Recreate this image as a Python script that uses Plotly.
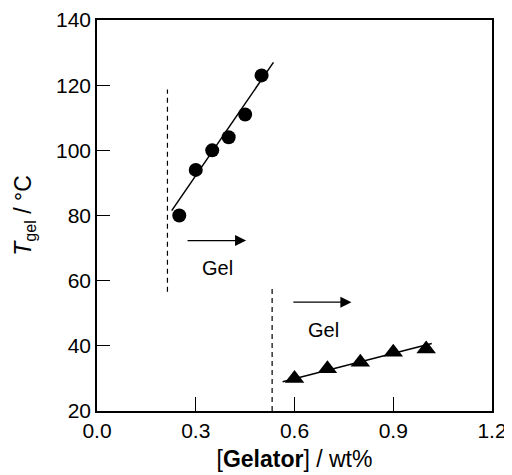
import plotly.graph_objects as go

# Data
circle_x = [0.25, 0.30, 0.35, 0.40, 0.45, 0.50]
circle_y = [80, 94, 100, 104, 111, 123]
circle_fit_x = [0.227, 0.536]
circle_fit_y = [81.5, 127]

tri_x = [0.6, 0.7, 0.8, 0.9, 1.0]
tri_y = [30, 33, 35, 38, 39]
tri_fit_x = [0.564, 1.017]
tri_fit_y = [29, 40.7]

dash1_x = [0.214, 0.214]
dash1_y = [56.6, 118.7]
dash2_x = [0.532, 0.532]
dash2_y = [20, 58]

arrow1_x = [0.2705, 0.453]
arrow1_y = 72.3
arrow2_x = [0.592, 0.773]
arrow2_y = 53.4
gel_labels_x = [0.365, 0.687]
gel_labels_y = [64.0, 44.9]

x_ticks = [0.0, 0.3, 0.6, 0.9, 1.2]
y_ticks = [20, 40, 60, 80, 100, 120, 140]

FONT = "Liberation Sans, Arial, Helvetica, sans-serif"

fig = go.Figure()

fig.add_trace(go.Scatter(x=circle_fit_x, y=circle_fit_y, mode="lines",
                         line=dict(color="black", width=1.5), showlegend=False))
fig.add_trace(go.Scatter(x=circle_x, y=circle_y, mode="markers",
                         marker=dict(symbol="circle", size=14, color="black"),
                         showlegend=False))
fig.add_trace(go.Scatter(x=tri_fit_x, y=tri_fit_y, mode="lines",
                         line=dict(color="black", width=1.5), showlegend=False))
fig.add_trace(go.Scatter(x=tri_x, y=tri_y, mode="markers",
                         marker=dict(symbol="triangle-up", size=17, color="black"),
                         showlegend=False))
for dx, dy in [(dash1_x, dash1_y), (dash2_x, dash2_y)]:
    fig.add_trace(go.Scatter(x=dx, y=dy, mode="lines",
                             line=dict(color="black", width=1.2, dash="5px,4px"),
                             showlegend=False))

for ax_pair, ay in [(arrow1_x, arrow1_y), (arrow2_x, arrow2_y)]:
    fig.add_annotation(x=ax_pair[1], y=ay, ax=ax_pair[0], ay=ay,
                       xref="x", yref="y", axref="x", ayref="y",
                       text="", showarrow=True, arrowhead=2, arrowsize=1.7,
                       arrowwidth=1.3, arrowcolor="black")

for gx, gy in zip(gel_labels_x, gel_labels_y):
    fig.add_annotation(x=gx, y=gy, xref="x", yref="y", text="Gel",
                       showarrow=False, font=dict(family=FONT, size=20, color="black"))

# The page body adds an 8px offset, so the figure is sized to fit the window.
fig.update_layout(
    width=504, height=467,
    margin=dict(l=89, r=20, t=12, b=64),
    plot_bgcolor="white", paper_bgcolor="white",
    font=dict(family=FONT, color="black"),
)
fig.update_xaxes(
    range=[0, 1.2], tickvals=x_ticks, ticktext=[f"{v:.1f}" for v in x_ticks],
    ticks="inside", ticklen=14, tickwidth=1.3, tickcolor="black",
    showline=True, linecolor="black", linewidth=1.5, mirror=True,
    showgrid=False, zeroline=False, automargin=False,
    tickfont=dict(family=FONT, size=21),
    title=dict(text="[<b>Gelator</b>] / wt%", font=dict(family=FONT, size=23), standoff=10),
)
fig.update_yaxes(
    range=[20, 140], tickvals=y_ticks,
    ticks="inside", ticklen=13, tickwidth=1.3, tickcolor="black",
    showline=True, linecolor="black", linewidth=1.5, mirror=True,
    showgrid=False, zeroline=False, automargin=False,
    tickfont=dict(family=FONT, size=21),
    title=dict(text="<i>T</i><sub>gel</sub> / °C", font=dict(family=FONT, size=23), standoff=18),
)

fig.write_html("out.html")
